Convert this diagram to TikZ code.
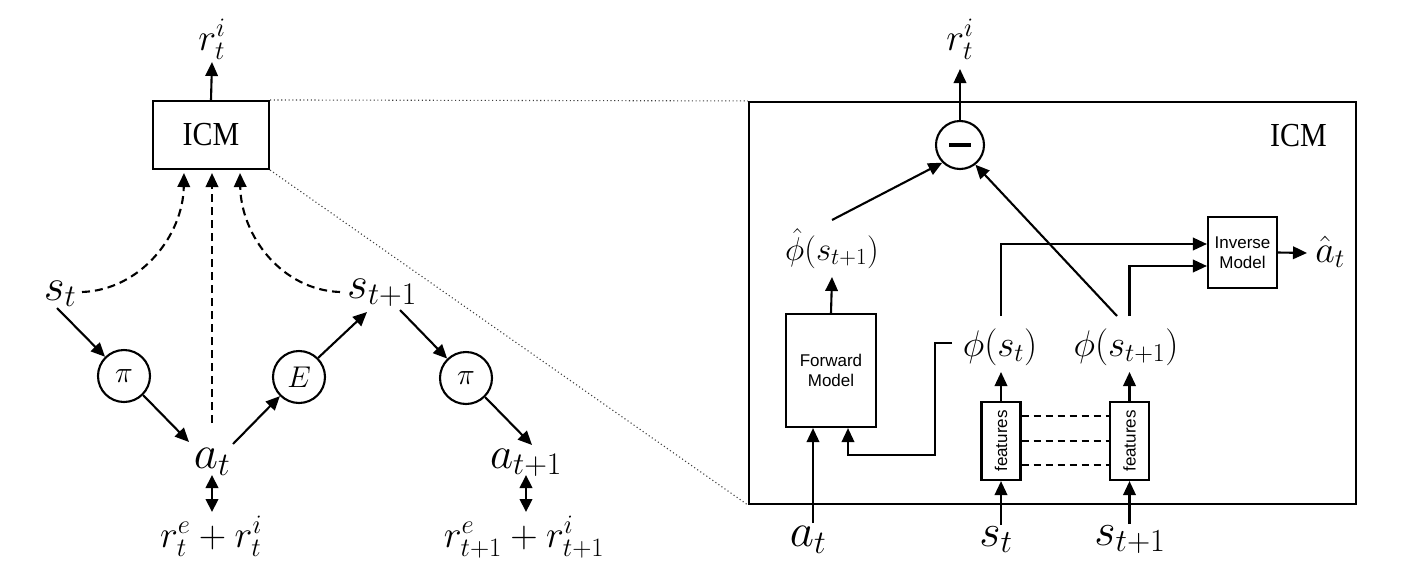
\RequirePackage{fix-cm}
\documentclass[tikz,border=0pt]{standalone}
\usepackage[no-math]{fontspec}
\newfontfamily\sansA{Liberation Sans}
\newfontfamily\serifB{Liberation Serif}
\usetikzlibrary{arrows.meta}
\tikzset{
  ln/.style={line width=2.1pt},
  arr/.style={ln, -{Triangle[length=14pt,width=12.5pt]}},
  darr/.style={ln, {Triangle[length=13pt,width=12.5pt]}-{Triangle[length=13pt,width=12.5pt]}},
  dsharr/.style={ln, dash pattern=on 8pt off 5pt, -{Triangle[length=14pt,width=12.5pt]}},
  dshln/.style={ln, dash pattern=on 7pt off 5pt},
  dotln/.style={line width=1.1pt, dash pattern=on 1.1pt off 2.6pt, black!75},
  bx/.style={draw, line width=2.1pt, inner sep=0pt, align=center},
  circ/.style={draw, circle, line width=2.1pt, minimum size=52pt, inner sep=0pt, fs=30},
  lbl/.style={inner sep=0pt, anchor=base},
  fs/.style={font=\fontsize{#1}{#1}\selectfont},
  sans/.style={font=\sansA\fontsize{17}{20}\selectfont},
  icmfont/.style={font=\serifB\fontsize{30}{30}\selectfont}
}
\newcommand{\icmtext}{\scalebox{1}[1.12]{ICM}}
\begin{document}
\begin{tikzpicture}[x=1pt,y=-1pt]
\useasboundingbox (0,0) rectangle (1407,573);

% ---------- left diagram ----------
\node[lbl, fs=38] (rti1) at (212,50) {$r_t^i$};
\node[bx, minimum width=116pt, minimum height=68pt, icmfont] (icm1) at (211,135) {\raisebox{-2pt}{\icmtext}};
\node[lbl, fs=45] (st1) at (60,300) {$s_t$};
\node[lbl, fs=45] (st2) at (382,298) {$s_{t+1}$};
\node[circ] (pi1) at (124,376) {$\pi$};
\node[circ] (env) at (299,377) {$E$};
\node[circ] (pi2) at (466,378) {$\pi$};
\node[lbl, fs=47] (at1) at (212,468) {$a_t$};
\node[lbl, fs=45] (at2) at (526,468) {$a_{t+1}$};
\node[lbl, fs=38] (rw1) at (211,547) {$r_t^e + r_t^i$};
\node[lbl, fs=38] (rw2) at (524,547) {$r_{t+1}^e + r_{t+1}^i$};

\draw[arr] (icm1.north) -- ([shift={(0,12)}]rti1.base);
\draw[arr] ([shift={(-3,8)}]st1.base) -- (pi1);
\draw[arr] (pi1.-45) -- ([shift={(-23,-26)}]at1.base);
\draw[arr] ([shift={(21,-24)}]at1.base) -- (env.225);
\draw[arr] (env.45) -- ([shift={(-15,14)}]st2.base);
\draw[arr] ([shift={(18,12)}]st2.base) -- (pi2);
\draw[arr] (pi2.-45) -- ([shift={(6,-23)}]at2.base);
\draw[darr] ([shift={(0,7)}]at1.base) -- ([shift={(1,-35)}]rw1.base);
\draw[darr] ([shift={(0,7)}]at2.base) -- ([shift={(2,-35)}]rw2.base);

\draw[dsharr] ([shift={(22,-8)}]st1.base) .. controls +(58,-2) and +(-1,63) .. ([shift={(-27,3)}]icm1.south);
\draw[dsharr] ([shift={(0,-45)}]at1.base) -- ([shift={(1,3)}]icm1.south);
\draw[dsharr] ([shift={(-42,-6)}]st2.base) .. controls +(-58,-2) and +(1,63) .. ([shift={(29,3)}]icm1.south);

% ---------- right diagram ----------
\node[bx, minimum width=607pt, minimum height=402pt] (icm2) at (1052.5,303) {};
\node[lbl, icmfont] (icm2t) at (1298.5,146) {\icmtext};
\node[circ, minimum size=48pt] (minus) at (960,145) {\rule{22pt}{4.5pt}};
\node[lbl, fs=38] (rti2) at (960,50) {$r_t^i$};
\node[lbl, fs=33] (phihat) at (832,260) {$\hat\phi(s_{t+1})$};
\node[bx, minimum width=90pt, minimum height=113pt, sans] (fm) at (831,370.5) {Forward\\Model};
\node[bx, minimum width=69pt, minimum height=71pt, sans] (im) at (1242.5,252.5) {Inverse\\Model};
\node[bx, minimum width=39pt, minimum height=78pt, sans] (f1) at (1001,441) {\rotatebox{90}{features}};
\node[bx, minimum width=39pt, minimum height=78pt, sans] (f2) at (1129.5,441) {\rotatebox{90}{features}};
\node[lbl, fs=37] (phis1) at (1000,356) {$\phi(s_t)$};
\node[lbl, fs=37] (phis2) at (1126,356) {$\phi(s_{t+1})$};
\node[lbl, fs=38] (ahat) at (1330,262) {$\hat a_t$};
\node[lbl, fs=47] (at3) at (808,546) {$a_t$};
\node[lbl, fs=46] (st3) at (996,546) {$s_t$};
\node[lbl, fs=46] (st4) at (1130,545) {$s_{t+1}$};

\draw[arr] (minus.north) -- ([shift={(0,19)}]rti2.base);
\draw[arr] (fm.north) -- ([shift={(0,17)}]phihat.base);
\draw[arr] ([shift={(0,-40)}]phihat.base) -- (minus.225);
\draw[arr] ([shift={(-9,-40)}]phis2.base) -- (minus.-52);
\draw[arr] ([shift={(1,-40)}]phis1.base) |- ([shift={(0,-8.5)}]im.west);
\draw[arr] ([shift={(3.5,-40)}]phis2.base) |- ([shift={(0,13.5)}]im.west);
\draw[arr] (im.east) -- ([shift={(-23,-9)}]ahat.base);
\draw[arr] ([shift={(-48,-13)}]phis1.base) -- ++(-17,0) -- ++(0,112) -| ([shift={(17,0)}]fm.south);
\coordinate (fmA) at ([shift={(-18,0)}]fm.south);
\draw[arr] ([shift={(5,-23)}]at3.base) -- (fmA);
\draw[arr] ([shift={(5,-21)}]st3.base) -- (f1.south);
\draw[arr] ([shift={(-0.5,-21)}]st4.base) -- (f2.south);
\draw[arr] (f1.north) -- ([shift={(1,16)}]phis1.base);
\draw[arr] (f2.north) -- ([shift={(3.5,16)}]phis2.base);
\foreach \d in {-25,0,24}
  \draw[dshln] ([shift={(0,\d)}]f1.east) -- ([shift={(0,\d)}]f2.west);

% ---------- zoom lines ----------
\draw[dotln] (icm1.north east) -- (icm2.north west);
\draw[dotln] (icm1.south east) -- (icm2.south west);
\end{tikzpicture}
\end{document}
